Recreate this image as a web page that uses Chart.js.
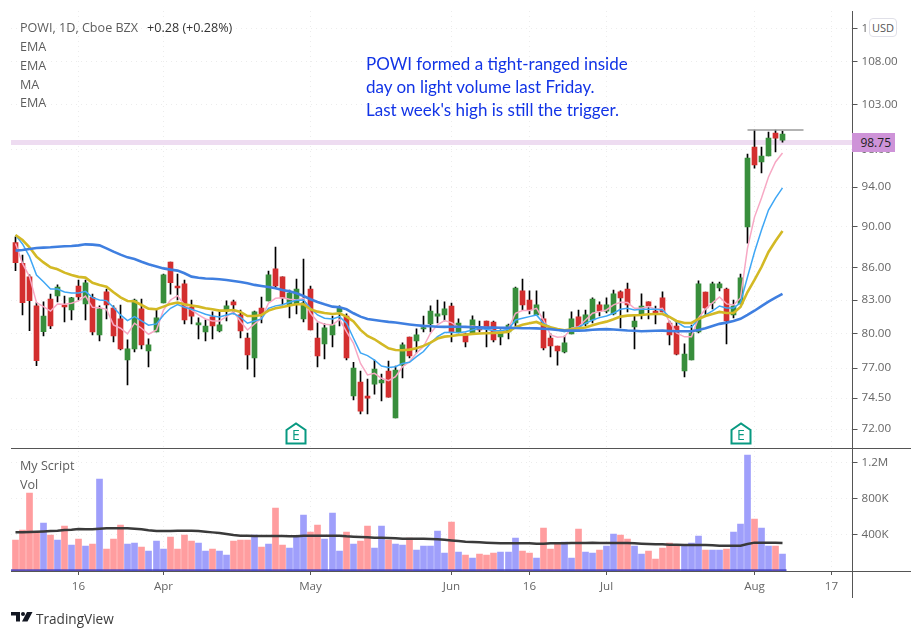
<!DOCTYPE html>
<html>
<head>
<meta charset="utf-8">
<title>POWI, 1D</title>
<script src="https://cdn.jsdelivr.net/npm/chart.js@4/dist/chart.umd.min.js"></script>
<style>
html,body{margin:0;padding:0;background:#fff;}
#wrap{position:relative;width:922px;height:638px;overflow:hidden;font-family:'Open Sans',sans-serif;}
#c{position:absolute;left:0;top:0;}
.t{position:absolute;white-space:nowrap;font-size:12.6px;color:#5d5d5d;line-height:16px;}
.note{position:absolute;left:366px;white-space:nowrap;font-family:Lato,sans-serif;font-size:17px;color:#1234e6;line-height:22px;}
.ln{position:absolute;background:#555;}
#last{position:absolute;left:852px;top:133px;width:43px;height:19px;background:#ce93d8;color:#222;font-size:12px;line-height:19px;text-align:right;}
#last span{margin-right:4px;}
#usd{position:absolute;left:869px;top:18px;width:26px;height:17px;background:#fff;border:1px solid #e0e0e8;border-radius:4px;font-size:11px;line-height:17px;text-align:center;color:#555;}
.e{position:absolute;top:422px;width:22px;height:23px;}
</style>
</head>
<body>
<div id="wrap">
<canvas id="c" width="922" height="638"></canvas>
<div class="ln" style="left:852px;top:11px;width:1px;height:587px;"></div>
<div class="ln" style="left:11px;top:448px;width:900px;height:1px;"></div>
<div class="ln" style="left:11px;top:571px;width:900px;height:1px;"></div>
<div class="t" style="left:20px;top:20px;">POWI, 1D, Cboe BZX</div>
<div class="t" style="left:147px;top:20px;color:#333;">+0.28 (+0.28%)</div>
<div class="t" style="left:20px;top:39px;">EMA</div>
<div class="t" style="left:20px;top:58px;">EMA</div>
<div class="t" style="left:20px;top:77px;">MA</div>
<div class="t" style="left:20px;top:95px;">EMA</div>
<div class="note" style="top:53px;">POWI formed a tight-ranged inside</div>
<div class="note" style="top:76px;">day on light volume last Friday.</div>
<div class="note" style="top:99px;">Last week's high is still the trigger.</div>
<div class="t" style="left:20px;top:458px;">My Script</div>
<div class="t" style="left:20px;top:477px;">Vol</div>
<div id="last"><span>98.75</span></div>
<div id="usd">USD</div>
<svg class="e" style="left:285px;" viewBox="0 0 22 23"><path d="M1.5 8 L11 1.5 L20.5 8 V21.5 H1.5 Z" fill="#fff" stroke="#089981" stroke-width="2"/><text x="11" y="18" font-size="14" text-anchor="middle" fill="#089981" font-family="Open Sans">E</text></svg>
<svg class="e" style="left:730px;" viewBox="0 0 22 23"><path d="M1.5 8 L11 1.5 L20.5 8 V21.5 H1.5 Z" fill="#fff" stroke="#089981" stroke-width="2"/><text x="11" y="18" font-size="14" text-anchor="middle" fill="#089981" font-family="Open Sans">E</text></svg>
<svg style="position:absolute;left:11px;top:612px;" width="22" height="10" viewBox="0 0 22 10"><path d="M0 0H9V9.500H5V3.500H0Z M16 0H21.500L16.500 9.500H11Z" fill="#131722"/><circle cx="12" cy="2" r="2" fill="#131722"/></svg>
<div class="t" style="left:36px;top:610px;font-size:13.6px;line-height:18px;color:#3b3b3b;">TradingView</div>
</div>
<script>
var opens=[88.42,86.43,85.15,82.47,80.15,83.1,83.37,82.55,82.1,84.3,82.65,83.25,79.87,83.75,82.28,81.29,77.69,78.65,82.2,78.47,80.13,82.74,86.55,84.3,84.5,82.37,80.76,80.13,81.47,80.22,82.0,82.83,81.65,79.6,77.87,82.28,82.92,85.9,85.15,82.55,82.65,81.29,84.02,79.6,79.08,79.87,81.92,81.55,74.67,75.83,74.67,75.66,75.75,76.75,72.88,77.26,79.69,79.34,80.4,80.85,81.55,81.65,82.46,80.13,79.96,79.96,80.58,81.11,81.02,79.69,80.13,80.93,83.84,83.01,81.65,81.29,79.6,78.9,78.39,79.96,81.47,80.84,81.2,82.56,82.0,81.74,83.75,84.02,80.58,81.74,82.83,82.0,83.2,80.93,80.66,76.76,77.69,80.13,83.74,82.74,84.11,84.02,81.65,82.65,89.96,98.25,96.65,97.29,99.78,99.0];
var closes=[86.49,82.77,82.95,77.63,81.55,80.66,84.2,82.37,83.2,83.28,84.6,80.13,82.2,82.55,79.78,78.65,78.65,83.01,79.0,79.0,81.39,85.33,84.6,84.12,81.2,81.55,80.94,80.66,80.66,80.76,82.47,82.55,80.22,78.13,81.92,81.74,85.33,84.3,83.2,83.65,84.02,82.74,80.31,78.04,80.49,80.76,82.28,77.87,77.0,73.44,74.5,76.92,76.0,74.58,76.84,79.0,78.04,79.87,80.52,82.0,81.74,82.2,80.13,80.93,79.25,81.2,80.31,80.4,79.43,80.13,80.75,84.11,82.56,82.1,82.56,78.73,78.9,78.47,79.17,81.29,80.58,81.65,83.1,82.0,82.56,83.57,83.2,82.56,81.11,82.46,82.46,81.74,81.92,79.87,78.2,78.2,80.04,84.49,82.28,84.49,84.49,81.11,82.46,85.05,97.07,96.33,97.29,99.23,99.23,99.67];
var highs=[89.0,87.23,85.33,82.77,82.83,83.55,84.4,83.37,83.25,84.86,84.86,83.55,82.47,84.02,82.47,82.55,79.43,83.1,83.1,79.52,82.1,85.42,86.55,85.42,84.86,83.01,81.39,81.2,81.92,81.92,82.92,83.01,82.1,80.04,82.0,83.28,85.7,88.0,85.15,83.93,84.95,86.83,84.3,80.94,80.85,81.55,82.47,81.74,77.5,76.75,76.08,77.69,76.5,77.6,77.18,79.17,79.69,80.4,81.55,82.47,83.01,82.83,82.73,81.29,80.04,81.56,81.11,81.11,81.11,80.31,80.84,84.2,84.95,83.84,83.84,81.92,79.96,78.9,79.78,81.92,82.1,82.1,83.2,82.83,83.2,83.93,83.84,84.57,81.65,83.57,82.83,82.46,83.75,81.1,81.11,79.08,80.75,84.77,83.74,84.67,84.67,84.11,83.01,85.42,97.5,100.11,98.25,99.9,100.11,100.0];
var lows=[85.74,81.65,80.25,77.2,79.78,80.43,82.83,81.03,81.2,83.0,81.2,79.87,79.34,81.29,79.25,78.56,75.58,78.39,78.65,77.1,80.13,82.74,83.55,83.01,80.85,80.85,79.52,79.34,79.52,80.13,81.11,81.74,79.6,76.92,76.25,80.94,82.92,84.12,82.55,81.39,81.74,81.03,80.31,77.1,77.78,78.82,80.66,77.69,74.34,73.2,73.2,74.83,74.26,74.58,72.88,76.17,77.87,78.3,80.13,80.13,80.94,81.11,79.25,80.04,78.82,79.96,80.13,78.82,79.25,79.0,79.52,80.66,82.1,81.74,81.65,78.56,77.96,77.26,78.3,79.96,80.4,80.66,80.93,81.56,81.83,81.65,80.49,81.92,78.65,81.29,81.29,80.84,81.92,79.0,78.12,76.25,77.69,80.04,81.56,82.19,83.84,79.08,81.38,82.65,88.38,96.0,95.48,97.29,97.72,98.78];
var emaFast=[88.35,86.43,85.18,82.77,82.4,82.0,82.65,82.62,82.71,82.92,83.37,82.34,82.31,82.16,80.76,80.46,79.96,80.91,80.46,79.93,80.31,82.1,83.01,83.4,82.55,82.1,81.65,81.29,81.11,81.11,81.5,81.95,81.06,80.31,80.85,81.35,82.71,83.16,83.22,83.07,83.01,83.16,81.8,81.06,80.82,80.76,81.26,80.16,79.14,77.4,76.42,76.56,76.14,75.94,76.28,77.12,77.55,78.3,78.85,80.02,80.76,81.14,80.96,80.55,80.55,80.66,80.55,80.55,80.25,80.16,80.46,81.8,82.04,82.04,82.25,81.2,79.87,79.66,79.72,80.46,80.6,81.2,81.8,81.95,82.1,82.56,82.8,82.77,82.25,82.25,82.4,82.16,82.25,81.02,80.04,79.7,79.7,81.38,82.19,82.74,83.29,82.65,82.55,83.19,87.9,90.95,92.88,95.06,96.65,97.61];
var emaMid=[89.17,88.3,87.07,85.33,84.7,84.02,84.02,83.75,83.65,83.65,83.8,83.22,83.01,82.95,82.34,81.65,81.14,81.5,81.11,80.73,80.85,81.65,82.25,82.58,82.34,82.16,81.95,81.71,81.55,81.47,81.65,81.8,81.44,80.91,81.11,81.29,82.25,82.47,82.58,82.8,82.98,83.01,82.25,81.65,81.35,81.29,81.5,80.91,79.58,78.3,78.07,77.69,77.18,77.06,77.12,77.4,77.5,77.98,78.42,79.14,79.72,80.08,80.1,80.07,80.16,80.31,80.43,80.37,80.25,80.25,80.37,81.2,81.35,81.5,81.65,80.9,80.55,80.31,80.16,80.37,80.55,80.9,81.2,81.41,81.56,81.8,82.16,82.25,82.1,82.16,82.16,82.16,82.1,81.47,81.02,80.58,80.58,81.29,81.65,82.01,82.46,82.28,82.28,82.74,85.14,87.52,89.66,91.66,92.88,93.92];
var maGold=[89.17,88.68,87.97,87.07,86.52,86.05,85.87,85.55,85.33,85.15,85.08,84.6,84.4,84.24,83.72,83.25,82.92,82.89,82.55,82.22,82.16,82.4,82.65,82.77,82.62,82.5,82.4,82.25,82.16,82.04,82.04,82.1,81.92,81.55,81.55,81.65,82.04,82.25,82.37,82.5,82.62,82.62,82.16,81.95,81.83,81.74,81.8,81.5,81.06,80.31,79.78,79.49,79.08,78.7,78.56,78.53,78.59,78.7,78.91,79.2,79.55,79.72,79.78,79.87,79.9,79.96,79.99,80.02,80.04,80.07,80.16,80.55,80.78,80.9,81.02,80.75,80.55,80.4,80.28,80.37,80.46,80.52,80.72,80.9,81.05,81.26,81.5,81.59,81.62,81.65,81.71,81.74,81.74,81.47,81.11,80.93,80.93,81.29,81.56,81.74,81.92,81.83,81.83,82.37,83.74,84.86,86.08,87.52,88.58,89.56];
var emaSlow=[87.65,87.71,87.8,87.9,87.94,87.97,88.03,88.07,88.1,88.16,88.26,88.23,88.16,87.87,87.55,87.26,87.0,86.84,86.58,86.35,86.13,85.95,85.83,85.74,85.49,85.17,85.07,85.0,84.97,84.92,84.86,84.77,84.67,84.55,84.4,84.3,84.2,84.08,83.93,83.8,83.62,83.37,83.07,82.83,82.62,82.4,82.34,82.16,81.8,81.5,81.29,81.2,81.11,81.03,80.97,80.88,80.8,80.73,80.67,80.64,80.6,80.58,80.6,80.6,80.58,80.55,80.55,80.52,80.52,80.5,80.5,80.48,80.46,80.46,80.45,80.42,80.38,80.3,80.26,80.25,80.25,80.27,80.33,80.36,80.38,80.35,80.3,80.26,80.24,80.2,80.22,80.24,80.25,80.22,80.2,80.2,80.2,80.31,80.46,80.67,80.85,80.96,81.1,81.3,81.65,82.03,82.45,82.85,83.22,83.57];
var volumes=[344,455,866,429,533,400,344,500,289,355,278,300,1022,244,355,511,300,311,266,222,333,244,377,244,400,333,311,222,244,222,178,333,344,344,400,266,300,700,289,255,377,622,433,511,355,644,222,433,300,333,500,255,500,344,300,289,366,233,278,278,444,200,544,211,178,144,189,178,200,211,211,366,222,200,144,477,244,300,322,144,466,211,200,233,278,411,400,355,278,189,222,133,255,311,289,278,311,389,233,233,233,244,433,522,1288,577,477,278,278,189];
var volAvg=[429,430,433,437,440,444,448,455,459,466,463,463,470,474,474,474,474,470,463,452,444,444,444,448,448,448,444,437,429,422,411,400,392,392,389,389,389,389,389,385,385,392,392,392,392,392,392,385,381,377,374,370,370,366,363,359,359,359,359,355,352,348,340,333,326,322,318,315,311,307,307,307,307,307,303,303,307,307,307,311,311,311,315,311,311,311,311,311,307,303,300,296,296,292,292,289,289,289,289,285,281,281,281,281,300,315,315,315,315,311];
var xTickBars=[9,21,42,62,73,84,105,116];
var xTickLabels=['16','Apr','May','Jun','16','Jul','Aug','17'];
var priceTicks=[72,74.5,77,80,83,86,90,94,98,103,108,112];
var volTicks=[400000,800000,1200000];
var volTickLabels=['400K','800K','1.2M'];
var lastPrice=98.75;
var triggerPrice=100.11;

var RED='#d32f2f',GREEN='#388e3c';
var bars=opens.map(function(o,i){return i;});
function pts(a){return a.map(function(v,i){return {x:i,y:v};});}
function ma(a,color,w,order){
  return {type:'line',data:pts(a),borderColor:color,borderWidth:w,pointRadius:0,tension:0,yAxisID:'y',order:order};
}
var barOpts={categoryPercentage:1,barPercentage:1,grouped:false,borderWidth:0};
function floatBars(lo,hi,colors,w,axis,order){
  return Object.assign({type:'bar',data:bars.map(function(i){return {x:i,y:[lo[i],hi[i]]};}),backgroundColor:colors,maxBarThickness:w,yAxisID:axis,order:order},barOpts);
}
var isUp=closes.map(function(c,i){return c>=opens[i];});

Chart.defaults.font.family="'Open Sans',sans-serif";
Chart.defaults.font.size=11.6;
Chart.defaults.color='#666';

var GRID='#ececec';
new Chart(document.getElementById('c'),{
  type:'bar',
  data:{datasets:[
    {type:'line',data:[{x:-1,y:lastPrice},{x:120,y:lastPrice}],borderColor:'#eedcf1',borderWidth:5,pointRadius:0,yAxisID:'y',order:20},
    floatBars(lows,highs,bars.map(function(){return '#000';}),1,'y',10),
    floatBars(opens,closes,isUp.map(function(u){return u?GREEN:RED;}),5,'y',9),
    {type:'line',data:[{x:104,y:triggerPrice},{x:112,y:triggerPrice}],borderColor:'#9a9a9a',borderWidth:1.5,pointRadius:0,yAxisID:'y',order:8},
    ma(emaFast,'#f7a8c4',1.5,4),
    ma(emaMid,'#3fa7f5',1.5,3),
    ma(maGold,'#d3b925',2.6,2),
    ma(emaSlow,'#3f7fe0',2.6,1),
    Object.assign({type:'bar',data:bars.map(function(i){return {x:i,y:volumes[i]*1000};}),backgroundColor:isUp.map(function(u){return u?'#9f9ffb':'#ff9d9f';}),maxBarThickness:6,yAxisID:'v',order:7},barOpts),
    {type:'line',data:[{x:-1,y:9000},{x:109.5,y:9000}],borderColor:'rgba(64,64,190,0.85)',borderWidth:2,pointRadius:0,yAxisID:'v',order:6},
    {type:'line',data:volAvg.map(function(v,i){return {x:i,y:v*1000};}),borderColor:'#3a3a3a',borderWidth:2.5,pointRadius:0,tension:0,yAxisID:'v',order:5}
  ]},
  options:{
    responsive:false,
    animation:false,
    events:[],
    layout:{padding:{left:11,top:11,right:0,bottom:0}},
    plugins:{legend:{display:false},tooltip:{enabled:false}},
    scales:{
      x:{
        type:'linear',
        min:-0.6,
        max:118.93,
        offset:false,
        beforeUpdate:function(s){
          if(s._snapped) return;
          s._snapped=true;
          var f=s.getPixelForValue;
          s.getPixelForValue=function(v){return Math.floor(f.call(s,v))+0.5;};
        },
        afterBuildTicks:function(s){s.ticks=xTickBars.map(function(v){return {value:v};});},
        afterFit:function(s){s.height=67;},
        grid:{color:GRID,offset:false,tickColor:'#555',tickLength:4,tickBorderDash:[]},
        border:{display:false,dash:[1,4]},
        ticks:{autoSkip:false,maxRotation:0,padding:5,color:'#666',callback:function(v){return xTickLabels[xTickBars.indexOf(v)];}}
      },
      y:{
        type:'logarithmic',
        position:'right',
        stack:'panes',
        stackWeight:437,
        min:70.51,
        max:114.15,
        afterBuildTicks:function(s){s.ticks=priceTicks.map(function(v){return {value:v};});},
        afterFit:function(s){s.width=69.5;},
        grid:{color:GRID,tickColor:'#555',tickLength:5,tickBorderDash:[]},
        border:{display:false,dash:[1,4]},
        ticks:{autoSkip:false,padding:4,color:'#666',callback:function(v){return v.toFixed(2);}}
      },
      v:{
        type:'linear',
        position:'right',
        stack:'panes',
        stackWeight:123,
        min:0,
        max:1366000,
        afterBuildTicks:function(s){s.ticks=volTicks.map(function(v){return {value:v};});},
        afterFit:function(s){s.width=69.5;},
        grid:{color:GRID,tickColor:'#555',tickLength:5,tickBorderDash:[]},
        border:{display:false,dash:[1,4]},
        ticks:{autoSkip:false,padding:4,color:'#666',callback:function(v){return volTickLabels[volTicks.indexOf(v)];}}
      }
    }
  }
});
</script>
</body>
</html>
